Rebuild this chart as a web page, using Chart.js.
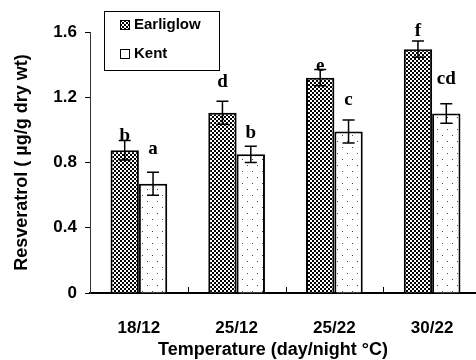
<!DOCTYPE html>
<html lang="en">
<head>
    <meta charset="UTF-8">
    <script src="https://cdn.jsdelivr.net/npm/chart.js"></script>
    <title>Resveratrol</title>
    <style>
        body {
            margin: 0;
            overflow: hidden;
            background: #fff;
        }
        #chart {
            display: block;
        }
    </style>
</head>
<body>
    <canvas id="chart" width="490" height="360"></canvas>

    <script>
        // data
        const categories = ['18/12', '25/12', '25/22', '30/22'];
        const earliglow = [0.875, 1.105, 1.32, 1.495];
        const earliglowErr = [0.06, 0.07, 0.05, 0.05];
        const kent = [0.67, 0.85, 0.99, 1.10];
        const kentErr = [0.07, 0.05, 0.07, 0.06];
        const earliglowLetters = ['b', 'd', 'e', 'f'];
        const kentLetters = ['a', 'b', 'c', 'cd'];
        // baseline of each letter, in y units
        const earliglowLetterY = [0.93, 1.26, 1.36, 1.575];
        const kentLetterY = [0.85, 0.95, 1.15, 1.28];
        const yTicks = [0, 0.4, 0.8, 1.2, 1.6];
        const xTitle = 'Temperature (day/night °C)';

        const SANS = '"Liberation Sans", Arial, sans-serif';
        const SERIF = '"Liberation Serif", "Times New Roman", serif';

        function checkerPattern() {
            const c = document.createElement('canvas');
            c.width = 4; c.height = 4;
            const g = c.getContext('2d');
            g.fillStyle = '#fff';
            g.fillRect(0, 0, 4, 4);
            g.fillStyle = '#000';
            g.fillRect(0, 0, 2, 2);
            g.fillRect(2, 2, 2, 2);
            return g.createPattern(c, 'repeat');
        }

        function dotPattern() {
            const c = document.createElement('canvas');
            c.width = 10; c.height = 12;
            const g = c.getContext('2d');
            g.fillStyle = '#fff';
            g.fillRect(0, 0, 10, 12);
            g.fillStyle = '#444';
            g.fillRect(2, 3, 1, 1);
            g.fillRect(7, 9, 1, 1);
            return g.createPattern(c, 'repeat');
        }

        const ctx = document.getElementById('chart').getContext('2d');
        const checker = checkerPattern();
        const dots = dotPattern();

        const extras = {
            id: 'extras',
            afterDatasetsDraw(chart) {
                const c = chart.ctx;
                const y = chart.scales.y;
                const x = chart.scales.x;
                const area = chart.chartArea;
                c.save();

                // inward x ticks at the category boundaries
                c.strokeStyle = '#000';
                c.lineWidth = 1;
                for (let i = 1; i < categories.length; i++) {
                    const px = Math.round((x.getPixelForValue(i - 1) + x.getPixelForValue(i)) / 2) + 0.5;
                    c.beginPath();
                    c.moveTo(px, area.bottom);
                    c.lineTo(px, area.bottom - 6);
                    c.stroke();
                }

                // error bars and letters
                chart.data.datasets.forEach((ds, di) => {
                    const meta = chart.getDatasetMeta(di);
                    meta.data.forEach((bar, i) => {
                        const v = ds.data[i];
                        const e = ds.errors[i];
                        const top = y.getPixelForValue(v + e);
                        const bot = y.getPixelForValue(v - e);
                        c.strokeStyle = '#000';
                        c.lineWidth = 1.5;
                        c.beginPath();
                        c.moveTo(bar.x, top); c.lineTo(bar.x, bot);
                        c.moveTo(bar.x - 6, top); c.lineTo(bar.x + 6, top);
                        c.moveTo(bar.x - 6, bot); c.lineTo(bar.x + 6, bot);
                        c.stroke();

                        c.fillStyle = '#000';
                        c.font = 'bold 19px ' + SERIF;
                        c.textAlign = 'center';
                        c.textBaseline = 'alphabetic';
                        c.fillText(ds.letters[i], bar.x, y.getPixelForValue(ds.letterY[i]));
                    });
                });

                // x title, sits a bit left of the axis centre in the original
                c.fillStyle = '#000';
                c.font = 'bold 18px ' + SANS;
                c.textAlign = 'center';
                c.textBaseline = 'middle';
                c.fillText(xTitle, 273, 350);

                // legend box
                const lx = area.left + 14, ly = 11, lw = 115, lh = 59;
                c.fillStyle = '#fff';
                c.fillRect(lx, ly, lw, lh);
                c.strokeStyle = '#000';
                c.lineWidth = 1;
                c.strokeRect(lx + 0.5, ly + 0.5, lw, lh);
                chart.data.datasets.forEach((ds, di) => {
                    const sy = ly + 9 + di * 29;
                    c.fillStyle = di === 0 ? checker : '#fff';
                    c.fillRect(lx + 16, sy, 9, 9);
                    c.strokeStyle = '#000';
                    c.strokeRect(lx + 16.5, sy + 0.5, 9, 9);
                    c.fillStyle = '#000';
                    c.font = 'bold 15px ' + SANS;
                    c.textAlign = 'left';
                    c.textBaseline = 'middle';
                    c.fillText(ds.label, lx + 30, sy + 5);
                });
                c.restore();
            }
        };

        new Chart(ctx, {
            type: 'bar',
            data: {
                labels: categories,
                datasets: [
                    {
                        label: 'Earliglow',
                        data: earliglow,
                        errors: earliglowErr,
                        letters: earliglowLetters,
                        letterY: earliglowLetterY,
                        backgroundColor: checker,
                        borderColor: '#000',
                        borderWidth: 2
                    },
                    {
                        label: 'Kent',
                        data: kent,
                        errors: kentErr,
                        letters: kentLetters,
                        letterY: kentLetterY,
                        backgroundColor: dots,
                        borderColor: '#000',
                        borderWidth: 2
                    }
                ]
            },
            options: {
                responsive: false,
                animation: false,
                layout: { padding: { top: 32, right: 9, left: 0, bottom: 0 } },
                datasets: {
                    bar: { categoryPercentage: 0.58, barPercentage: 1 }
                },
                plugins: {
                    legend: { display: false },
                    tooltip: { enabled: false }
                },
                scales: {
                    x: {
                        afterFit: s => { s.height = 67; },
                        grid: { display: false },
                        border: { display: true, color: '#000', width: 2 },
                        ticks: {
                            color: '#000',
                            padding: 17,
                            font: { family: SANS, size: 17, weight: 'bold' }
                        }
                    },
                    y: {
                        min: 0,
                        max: 1.6,
                        afterFit: s => { s.width = 90; },
                        afterBuildTicks: s => { s.ticks = yTicks.map(v => ({ value: v })); },
                        grid: {
                            drawOnChartArea: false,
                            color: '#000',
                            tickLength: 5
                        },
                        border: { display: true, color: '#333', width: 1 },
                        ticks: {
                            color: '#000',
                            padding: 8,
                            font: { family: SANS, size: 17, weight: 'bold' },
                            callback: v => v === 0 ? '0' : v.toFixed(1)
                        },
                        title: {
                            display: true,
                            text: 'Resveratrol ( µg/g dry wt)',
                            color: '#000',
                            padding: { top: 11, bottom: 0 },
                            font: { family: SANS, size: 18, weight: 'bold' }
                        }
                    }
                }
            },
            plugins: [extras]
        });
    </script>
</body>
</html>
